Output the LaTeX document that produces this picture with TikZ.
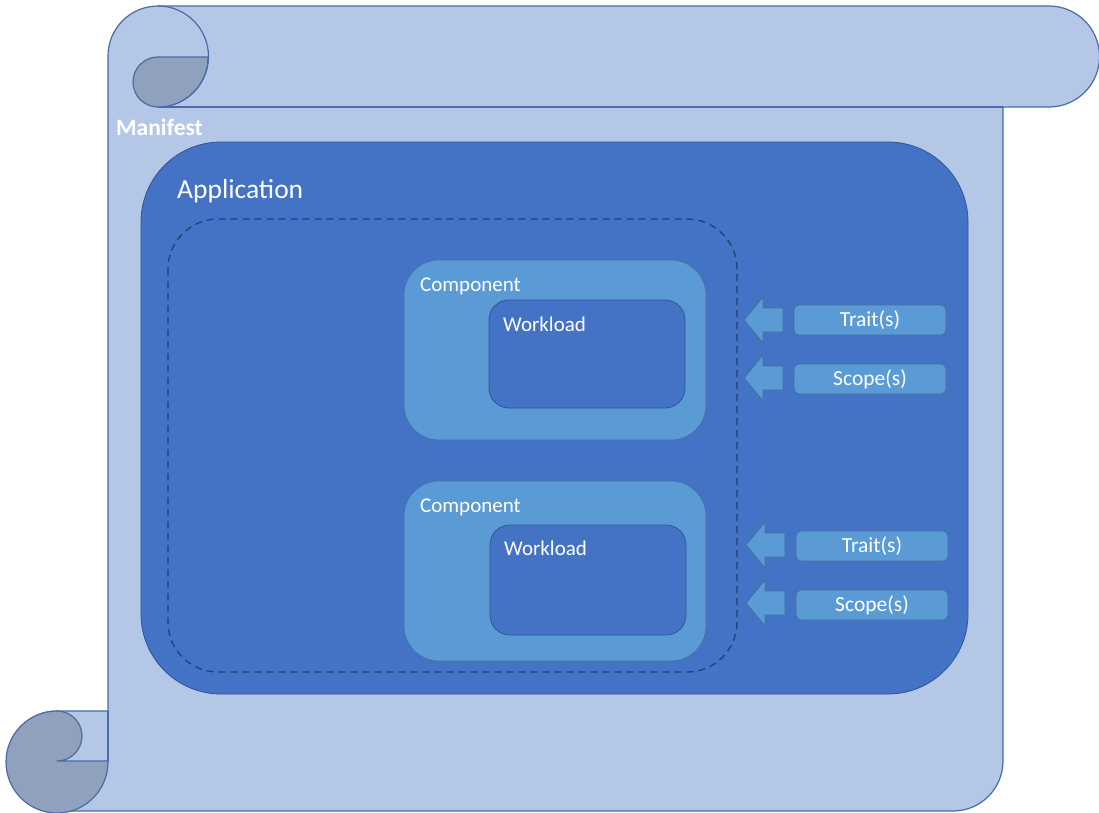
\documentclass[tikz,border=0pt]{standalone}
\usepackage{fontspec}
\setmainfont{Carlito}
\definecolor{scrollfill}{HTML}{B4C7E7}
\definecolor{scrolldark}{HTML}{8FA1BD}
\definecolor{scrollline}{HTML}{4A6AA8}
\definecolor{appfill}{HTML}{4472C4}
\definecolor{appline}{HTML}{2F5597}
\definecolor{compfill}{HTML}{5B9BD5}
\definecolor{compline}{HTML}{41719C}
\definecolor{dashline}{HTML}{243F73}
\tikzset{
  scrollshape/.style={fill=scrollfill, draw=scrollline, line width=1.2pt, line join=round},
  scrolledge/.style={draw=scrollline, line width=1.2pt},
  curl/.style={fill=scrolldark, draw=scrollline, line width=1.2pt, line join=round},
  appbox/.style={fill=appfill, draw=appline, line width=0.8pt, rounded corners=80pt},
  groupbox/.style={draw=dashline, line width=1.3pt, dash pattern=on 7pt off 5pt, rounded corners=50pt},
  compbox/.style={fill=compfill, draw=compline, line width=0.6pt, rounded corners=35pt},
  workbox/.style={fill=appfill, draw=appline, line width=0.8pt, rounded corners=20pt},
  tagbox/.style={fill=compfill, draw=compline, line width=0.8pt, rounded corners=5pt,
    minimum width=152pt, minimum height=30pt, inner sep=0pt, text=white, font=\fontsize{21.5}{24}\selectfont},
  blockarrow/.style={fill=compfill, draw=compline, line width=0.8pt, line join=miter},
  label/.style={text=white, anchor=west, inner sep=0pt},
  boxlabel/.style={label, font=\fontsize{21}{24}\selectfont},
}
\begin{document}
\begin{tikzpicture}[x=1pt, y=-1pt]
\useasboundingbox (0,0) rectangle (1099,812);

% scroll body (y axis points down, so angles run clockwise on the page)
\path[scrollshape]
  (108,711) -- (108,56) arc[start angle=-180, end angle=-90, radius=50]
  -- (1049,6) arc[start angle=-90, end angle=90, radius=50.5]
  -- (1003,107) -- (1003,761) arc[start angle=0, end angle=90, radius=50]
  -- (57,811) arc[start angle=90, end angle=270, radius=50]
  -- cycle;
% top roll
\draw[scrolledge] (158,107) -- (1003,107);
\draw[scrolledge] (158,6) arc[start angle=-90, end angle=90, radius=50.5];
\path[curl] (158,57) -- (208,57) arc[start angle=0, end angle=90, radius=50]
  arc[start angle=90, end angle=270, radius=25] -- cycle;
% bottom roll
\draw[scrolledge] (108,711) -- (108,761);
\path[curl] (108,761) -- (57,761) arc[start angle=90, end angle=-90, radius=25]
  arc[start angle=-90, end angle=-360, radius=51] -- cycle;

\node[label, font=\fontsize{23.5}{26}\selectfont\bfseries] (manifest) at (116,127) {Manifest};

% application
\draw[appbox] (141,142) rectangle (968,694);
\node[label, font=\fontsize{27.5}{30}\selectfont] (app) at (177,191) {Application};
\draw[groupbox] (168,219) rectangle (737,672);

% components
\draw[compbox] (404,260) rectangle (706,440);
\draw[workbox] (489,300) rectangle (685,408);
\node[boxlabel] (c1) at (420,286) {Component};
\node[boxlabel] (w1) at (503,324) {Workload};

\draw[compbox] (404,481) rectangle (706,661);
\draw[workbox] (490,525) rectangle (686,635);
\node[boxlabel] (c2) at (420,507) {Component};
\node[boxlabel] (w2) at (504,548) {Workload};

% traits and scopes
\node[tagbox] (t1) at (870,320) {Trait(s)};
\node[tagbox] (s1) at (870,379) {Scope(s)};
\node[tagbox] (t2) at (872,546) {Trait(s)};
\node[tagbox] (s2) at (872,605) {Scope(s)};

% block arrows pointing at the group
\foreach \y/\x in {320/744, 378/744, 545/746, 603/746} {
  \path[blockarrow] (\x,\y) -- (\x+19,\y-23) -- (\x+19,\y-12) -- (\x+39,\y-12)
    -- (\x+39,\y+12) -- (\x+19,\y+12) -- (\x+19,\y+23) -- cycle;
}
\end{tikzpicture}
\end{document}
